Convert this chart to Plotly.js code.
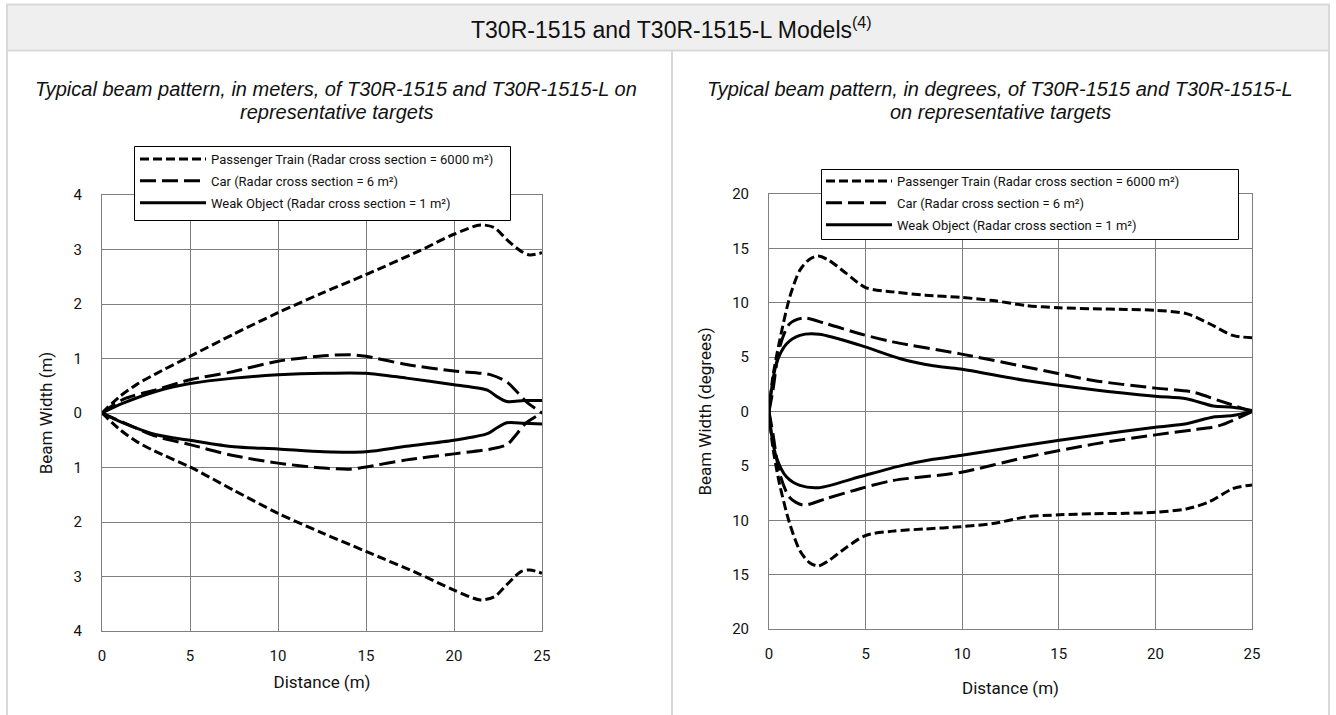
<!DOCTYPE html>
<html>
<head>
<meta charset="utf-8">
<script src="https://cdn.plot.ly/plotly-3.0.1.min.js"></script>
<style>html,body{margin:0;padding:0;background:#fff;}#chart{width:1336px;height:715px;}</style>
</head>
<body>
<div id="chart"></div>
<script>
// ---------- Data: left panel (meters) ----------
const trainXm   = [0, 1, 2, 3, 5, 7.5, 10, 12.5, 15, 18, 20, 21.5, 22.3, 23, 23.8, 24.3, 25];
const trainUpM  = [0, 0.30, 0.53, 0.71, 1.04, 1.45, 1.84, 2.20, 2.54, 2.97, 3.28, 3.45, 3.40, 3.18, 2.97, 2.90, 2.94];
const trainLoM  = [0, -0.30, -0.53, -0.70, -0.99, -1.42, -1.84, -2.20, -2.54, -2.95, -3.25, -3.43, -3.37, -3.15, -2.91, -2.88, -2.94];

const carXm     = [0, 1.2, 3.1, 5, 7.3, 10, 12.6, 14.1, 15, 17.3, 20, 22.1, 23, 23.6, 24.1, 25];
const carUpM    = [0, 0.25, 0.43, 0.61, 0.75, 0.95, 1.05, 1.07, 1.04, 0.89, 0.77, 0.70, 0.57, 0.38, 0.21, 0];
const carLoM    = [0, -0.17, -0.43, -0.58, -0.77, -0.92, -1.01, -1.03, -0.99, -0.86, -0.75, -0.66, -0.58, -0.37, -0.18, 0];

const weakXm    = [0, 1.2, 3.1, 5, 7.5, 10, 12.6, 15, 17.3, 20, 21.9, 22.4, 23, 24, 25];
const weakUpM   = [0, 0.18, 0.40, 0.54, 0.64, 0.70, 0.73, 0.73, 0.64, 0.52, 0.42, 0.31, 0.21, 0.23, 0.23];
const weakLoM   = [0, -0.18, -0.40, -0.50, -0.62, -0.66, -0.71, -0.71, -0.61, -0.50, -0.38, -0.28, -0.18, -0.19, -0.20];

// ---------- Data: right panel (degrees) ----------
const trainXd   = [0, 0.2, 0.55, 1.07, 1.6, 2.1, 2.55, 3.1, 4.0, 5.0, 6.4, 8.1, 9.9, 11.6, 13.3, 15, 16.8, 18.5, 20, 21.6, 22.8, 24, 25];
const trainUpD  = [0, 3.2, 6.5, 10.5, 13.0, 14.0, 14.3, 13.9, 12.7, 11.4, 11.0, 10.7, 10.5, 10.2, 9.75, 9.54, 9.45, 9.39, 9.3, 9.0, 8.07, 7.0, 6.78];
const trainLoD  = [0, -3.3, -6.7, -10.3, -12.8, -13.9, -14.2, -13.7, -12.5, -11.4, -11.0, -10.8, -10.6, -10.3, -9.7, -9.5, -9.4, -9.36, -9.26, -8.96, -8.3, -7.1, -6.75];

const carXd     = [0, 0.2, 0.55, 1.07, 1.76, 2.97, 4.7, 6.4, 9.9, 13.3, 16.8, 20, 21.9, 23.3, 25];
const carUpD    = [0, 1.9, 5.9, 8.07, 8.6, 8.07, 7.15, 6.4, 5.3, 4.1, 2.85, 2.15, 1.8, 1.0, 0];
const carLoD    = [0, -2.0, -5.7, -7.9, -8.6, -8.0, -7.1, -6.35, -5.6, -4.2, -3.0, -2.15, -1.7, -1.3, 0];

const weakXd    = [0, 0.12, 0.38, 0.9, 1.6, 2.6, 4.7, 6.8, 8.5, 9.9, 13.3, 16.8, 20, 21.6, 23.0, 24.0, 25];
const weakUpD   = [0, 1.9, 4.4, 6.2, 7.0, 7.1, 6.1, 4.85, 4.2, 3.9, 2.85, 2.0, 1.4, 1.17, 0.5, 0.4, 0.1];
const weakLoD   = [0, -2.0, -4.2, -6.0, -6.8, -7.0, -6.0, -5.0, -4.4, -4.05, -3.1, -2.2, -1.44, -1.13, -0.5, -0.37, 0];

// ---------- Labels ----------
const seriesNames = [
  'Passenger Train (Radar cross section = 6000 m²)',
  'Car (Radar cross section = 6 m²)',
  'Weak Object (Radar cross section = 1 m²)'
];
const xTicks = [0, 5, 10, 15, 20, 25];
const yTicksM = [-4, -3, -2, -1, 0, 1, 2, 3, 4];
const yTickTextM = ['4', '3', '2', '1', '0', '1', '2', '3', '4'];
const yTicksD = [-20, -15, -10, -5, 0, 5, 10, 15, 20];
const yTickTextD = ['20', '15', '10', '5', '0', '5', '10', '15', '20'];
const mainTitle = 'T30R-1515 and T30R-1515-L Models<sup>(4)</sup>';
const subLeft = ['Typical beam pattern, in meters, of T30R-1515 and T30R-1515-L on', 'representative targets'];
const subRight = ['Typical beam pattern, in degrees, of T30R-1515 and T30R-1515-L', 'on representative targets'];

// ---------- Styling ----------
const W = 1336, H = 715;
const NARROW = 'Roboto, "Liberation Sans", Arial, sans-serif';
const ARIAL = '"Liberation Sans", Arial, sans-serif';
const dashes = ['9px,4px', '16px,6px', 'solid'];
const groups = ['train', 'car', 'weak'];
const px = v => v / W;
const py = v => 1 - v / H;

function envelope(xs, up, lo) {
  return { x: xs.concat([null], xs), y: up.concat([null], lo) };
}

const leftSets = [envelope(trainXm, trainUpM, trainLoM), envelope(carXm, carUpM, carLoM), envelope(weakXm, weakUpM, weakLoM)];
const rightSets = [envelope(trainXd, trainUpD, trainLoD), envelope(carXd, carUpD, carLoD), envelope(weakXd, weakUpD, weakLoD)];

const traces = [];
leftSets.forEach((s, i) => traces.push({
  type: 'scatter', mode: 'lines', x: s.x, y: s.y, xaxis: 'x', yaxis: 'y',
  name: seriesNames[i], legend: 'legend', legendgroup: groups[i] + 'L', connectgaps: false,
  line: { color: '#000', width: 3, dash: dashes[i], shape: 'spline', smoothing: 0.8 },
  hoverinfo: 'skip'
}));
rightSets.forEach((s, i) => traces.push({
  type: 'scatter', mode: 'lines', x: s.x, y: s.y, xaxis: 'x2', yaxis: 'y2',
  name: seriesNames[i], legend: 'legend2', legendgroup: groups[i] + 'R', connectgaps: false,
  line: { color: '#000', width: 3, dash: dashes[i], shape: 'spline', smoothing: 0.8 },
  hoverinfo: 'skip'
}));

const gridCol = '#7f7f7f';
function xAxis(domain, anchor, standoff) {
  return {
    domain: domain, anchor: anchor, range: [0, 25], tickvals: xTicks,
    showgrid: true, gridcolor: gridCol, gridwidth: 1, zeroline: false,
    showline: true, linecolor: gridCol, linewidth: 1, mirror: true, ticks: '',
    tickfont: { family: NARROW, size: 15, color: '#111' }, ticklabelstandoff: 11,
    title: { text: 'Distance (m)', font: { family: NARROW, size: 17, color: '#111' }, standoff: standoff },
    fixedrange: true
  };
}
function yAxis(domain, anchor, range, vals, text, title) {
  return {
    domain: domain, anchor: anchor, range: range, tickvals: vals, ticktext: text,
    showgrid: true, gridcolor: gridCol, gridwidth: 1, zeroline: false,
    showline: true, linecolor: gridCol, linewidth: 1, mirror: true, ticks: '',
    tickfont: { family: NARROW, size: 15, color: '#111' }, ticklabelstandoff: 16,
    title: { text: title, font: { family: NARROW, size: 17, color: '#111' }, standoff: 16 },
    fixedrange: true
  };
}

const borderCol = '#d9d9d9';
const shapes = [
  { type: 'rect', xref: 'paper', yref: 'paper', x0: px(8), x1: px(1328), y0: py(50), y1: py(5), fillcolor: '#efefef', line: { width: 0 }, layer: 'below' },
  { type: 'line', xref: 'paper', yref: 'paper', x0: px(7), x1: px(7), y0: py(4), y1: 0, line: { color: borderCol, width: 2 }, layer: 'below' },
  { type: 'line', xref: 'paper', yref: 'paper', x0: px(6), x1: px(1330), y0: py(4.5), y1: py(4.5), line: { color: borderCol, width: 2 }, layer: 'below' },
  { type: 'line', xref: 'paper', yref: 'paper', x0: px(1329), x1: px(1329), y0: py(4), y1: 0, line: { color: borderCol, width: 2 }, layer: 'below' },
  { type: 'line', xref: 'paper', yref: 'paper', x0: px(7), x1: px(1329), y0: py(50.5), y1: py(50.5), line: { color: borderCol, width: 2 }, layer: 'below' },
  { type: 'line', xref: 'paper', yref: 'paper', x0: px(672), x1: px(672), y0: py(50), y1: 0, line: { color: borderCol, width: 2 }, layer: 'below' },
  // legend frames
  { type: 'rect', xref: 'paper', yref: 'paper', x0: px(134.5), x1: px(510.5), y0: py(220.5), y1: py(146.5), fillcolor: '#fff', line: { color: '#000', width: 1 }, layer: 'above' },
  { type: 'rect', xref: 'paper', yref: 'paper', x0: px(821.5), x1: px(1238.5), y0: py(239.5), y1: py(169.5), fillcolor: '#fff', line: { color: '#000', width: 1 }, layer: 'above' }
];

const subFont = { family: ARIAL, size: 20, color: '#111', style: 'italic' };
const annotations = [
  { xref: 'paper', yref: 'paper', x: px(671), y: py(28), text: mainTitle, showarrow: false, xanchor: 'center', yanchor: 'middle', font: { family: ARIAL, size: 23, color: '#111' } },
  { xref: 'paper', yref: 'paper', x: px(336), y: py(89), text: subLeft[0], showarrow: false, xanchor: 'center', yanchor: 'middle', font: subFont },
  { xref: 'paper', yref: 'paper', x: px(336), y: py(112), text: subLeft[1], showarrow: false, xanchor: 'center', yanchor: 'middle', font: subFont },
  { xref: 'paper', yref: 'paper', x: px(1000), y: py(89), text: subRight[0], showarrow: false, xanchor: 'center', yanchor: 'middle', font: subFont },
  { xref: 'paper', yref: 'paper', x: px(1000), y: py(112), text: subRight[1], showarrow: false, xanchor: 'center', yanchor: 'middle', font: subFont }
];

const legendCommon = {
  xref: 'paper', yref: 'paper', xanchor: 'left', yanchor: 'top',
  bgcolor: 'rgba(0,0,0,0)', borderwidth: 0, itemwidth: 66,
  traceorder: 'grouped', tracegroupgap: 2,
  font: { family: NARROW, size: 13, color: '#111' },
  itemclick: false, itemdoubleclick: false
};

const layout = {
  width: W, height: H, autosize: false,
  margin: { l: 0, r: 0, t: 0, b: 0 },
  paper_bgcolor: '#fff', plot_bgcolor: '#fff',
  showlegend: true,
  xaxis: xAxis([px(102), px(542)], 'y', 12),
  yaxis: yAxis([py(631), py(195)], 'x', [-4, 4], yTicksM, yTickTextM, 'Beam Width (m)'),
  xaxis2: xAxis([px(769), px(1252)], 'y2', 20),
  yaxis2: yAxis([py(629), py(194)], 'x2', [-20, 20], yTicksD, yTickTextD, 'Beam Width (degrees)'),
  legend: Object.assign({}, legendCommon, { x: px(135), y: py(144) }),
  legend2: Object.assign({}, legendCommon, { x: px(821), y: py(166) }),
  shapes: shapes,
  annotations: annotations
};

Plotly.newPlot('chart', traces, layout, { displayModeBar: false, staticPlot: true });
</script>
</body>
</html>
